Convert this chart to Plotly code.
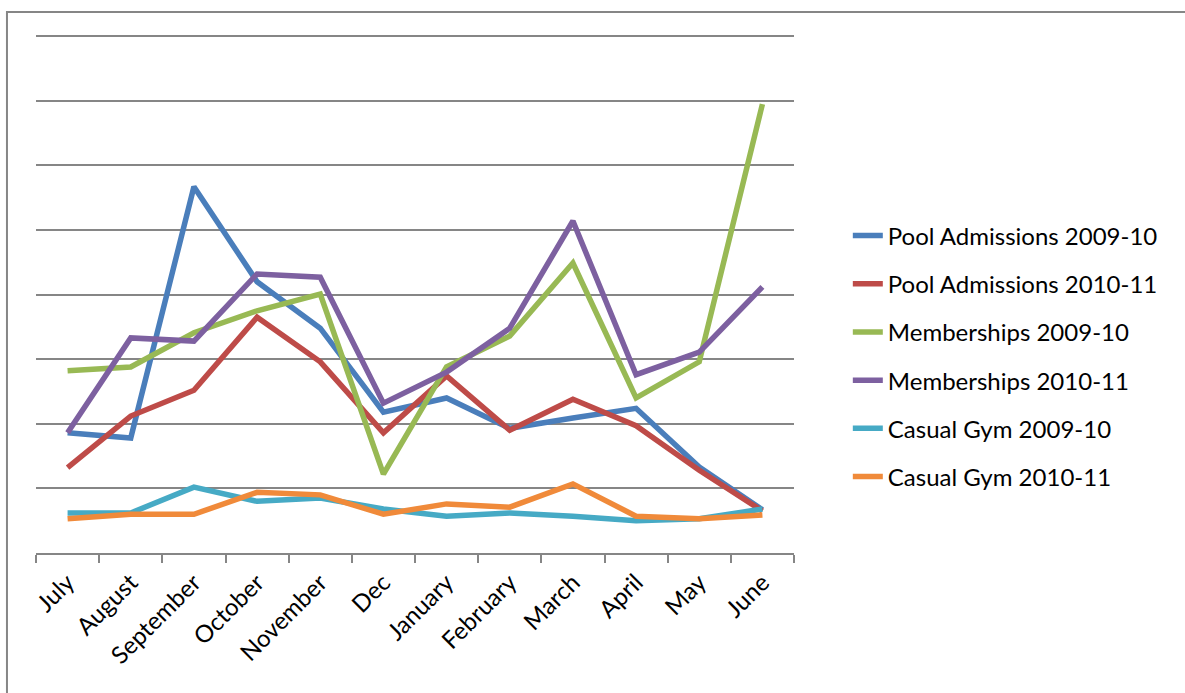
import plotly.graph_objects as go

months = ["July", "August", "September", "October", "November", "Dec",
          "January", "February", "March", "April", "May", "June"]

pool_2009 = [1.86, 1.78, 5.67, 4.20, 3.48, 2.18, 2.40, 1.93, 2.09, 2.24, 1.33, 0.67]
pool_2010 = [1.32, 2.12, 2.52, 3.65, 2.96, 1.86, 2.74, 1.90, 2.38, 1.97, 1.28, 0.65]
memb_2009 = [2.82, 2.88, 3.41, 3.75, 4.01, 1.22, 2.88, 3.36, 4.49, 2.40, 2.96, 6.95]
memb_2010 = [1.86, 3.33, 3.28, 4.32, 4.27, 2.32, 2.80, 3.48, 5.14, 2.76, 3.11, 4.12]
gym_2009 = [0.62, 0.62, 1.02, 0.80, 0.85, 0.68, 0.57, 0.62, 0.57, 0.50, 0.53, 0.68]
gym_2010 = [0.53, 0.60, 0.60, 0.94, 0.90, 0.60, 0.76, 0.71, 1.07, 0.57, 0.53, 0.59]

series = [
    ("Pool Admissions 2009-10", pool_2009, "#4A7EBB"),
    ("Pool Admissions 2010-11", pool_2010, "#BE4B48"),
    ("Memberships 2009-10", memb_2009, "#98B954"),
    ("Memberships 2010-11", memb_2010, "#7D60A0"),
    ("Casual Gym 2009-10", gym_2009, "#46AAC5"),
    ("Casual Gym 2010-11", gym_2010, "#F08A3A"),
]

fig = go.Figure()
for i, (name, vals, color) in enumerate(series):
    fig.add_trace(go.Scatter(
        x=months, y=vals, name=name, mode="lines",
        line=dict(color=color, width=5.5),
        legendgroup=f"g{i}",
    ))

FONT = "Lato, 'Open Sans', sans-serif"

# plot area: x 36..794, y (top of range) 33..553
fig.update_layout(
    width=1185, height=693,
    margin=dict(l=36, r=391, t=33, b=140),
    plot_bgcolor="white", paper_bgcolor="white",
    font=dict(family=FONT, size=24, color="black"),
    showlegend=True,
    legend=dict(
        x=1.071, y=0.653, xanchor="left", yanchor="top",
        bgcolor="rgba(0,0,0,0)", tracegroupgap=14,
        font=dict(family=FONT, size=24, color="black"),
    ),
    xaxis=dict(
        type="category", range=[-0.5, 11.5],
        showgrid=False, showline=True, linecolor="#868686", linewidth=2,
        ticks="outside", tickson="boundaries", ticklen=8, tickcolor="#868686",
        tickwidth=2, tickangle=-45, ticklabelstandoff=4,
        tickfont=dict(family=FONT, size=24, color="black"),
    ),
    yaxis=dict(
        range=[0, 8.05], dtick=1, showgrid=True, gridcolor="#868686", gridwidth=2,
        showticklabels=False, zeroline=False, showline=False,
    ),
    shapes=[dict(
        type="rect", xref="paper", yref="paper",
        x0=-0.0383, x1=1.53, y0=-0.3, y1=1.0403,
        line=dict(color="#868686", width=2), fillcolor="rgba(0,0,0,0)",
        layer="below",
    )],
)

fig.write_html("out.html", config={"displayModeBar": False},
               post_script="document.body.style.margin='0';")
